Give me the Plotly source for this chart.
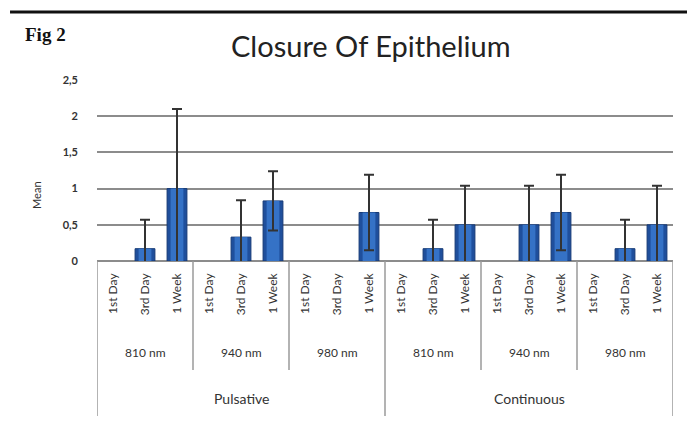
import plotly.graph_objects as go

# ---- data ----
modes = ["Pulsative", "Continuous"]
wavelengths = ["810 nm", "940 nm", "980 nm"]
days = ["1st Day", "3rd Day", "1 Week"]
means = [0, 0.17, 1.0, 0, 0.33, 0.83, 0, 0, 0.67,
         0, 0.17, 0.5, 0, 0.5, 0.67, 0, 0.17, 0.5]
err_plus = [0, 0.4, 1.1, 0, 0.51, 0.41, 0, 0, 0.52,
            0, 0.4, 0.54, 0, 0.54, 0.52, 0, 0.4, 0.54]
err_minus = [0, 0.4, 1.1, 0, 0.51, 0.41, 0, 0, 0.52,
             0, 0.4, 0.54, 0, 0.54, 0.52, 0, 0.4, 0.54]
y_ticks = [0, 0.5, 1, 1.5, 2, 2.5]

# ---- derived category layout ----
n_days = len(days)
n_wl = len(wavelengths)
tick_text = [d for m in modes for w in wavelengths for d in days]
xs = list(range(len(tick_text)))
total = len(tick_text)
# zero-valued bars are not drawn (no bar, no error bar)
bar_x = [x for x, v in zip(xs, means) if v > 0]
bar_y = [v for v in means if v > 0]
bar_ep = [e for e, v in zip(err_plus, means) if v > 0]
bar_em = [e for e, v in zip(err_minus, means) if v > 0]

FONT = "Lato, 'Open Sans', sans-serif"

fig = go.Figure()
# outer bar (dark edges)
fig.add_trace(go.Bar(
    x=bar_x, y=bar_y, width=0.62,
    marker=dict(color="#1f4f9c", line=dict(color="#163a76", width=1)),
    cliponaxis=True, showlegend=False, hoverinfo="skip",
))
# inner lighter strip + error bars
fig.add_trace(go.Bar(
    x=bar_x, y=bar_y, width=0.40,
    marker=dict(color="#3572c6", line=dict(width=0)),
    error_y=dict(type="data", array=bar_ep, arrayminus=bar_em,
                 color="#333333", thickness=2, width=5, symmetric=False),
    cliponaxis=True, showlegend=False,
))

shapes = []
annotations = []
# separators below the axis
for i in range(len(modes) * n_wl + 1):
    xpos = i * n_days - 0.5
    is_mode_edge = (i % n_wl == 0)
    shapes.append(dict(type="line", xref="x", yref="paper",
                       x0=xpos, x1=xpos, y0=0,
                       y1=-0.856 if is_mode_edge else -0.602,
                       line=dict(color="#9a9a9a", width=1.5)))
for mi, m in enumerate(modes):
    for wi, w in enumerate(wavelengths):
        c = (mi * n_wl + wi) * n_days + (n_days - 1) / 2
        annotations.append(dict(text=w, x=c, y=-0.503, xref="x", yref="paper",
                                showarrow=False, yanchor="middle",
                                font=dict(family=FONT, size=12, color="#333")))
    c = mi * n_wl * n_days + (n_wl * n_days - 1) / 2
    annotations.append(dict(text=m, x=c, y=-0.757, xref="x", yref="paper",
                            showarrow=False, yanchor="middle",
                            font=dict(family=FONT, size=14, color="#333")))

# top rule
shapes.append(dict(type="line", xref="paper", yref="paper",
                   x0=-0.151, x1=1.03, y0=1.376, y1=1.376,
                   line=dict(color="#111", width=3)))

annotations.append(dict(text="<b>Fig 2</b>", x=-0.129, y=1.249, xref="paper", yref="paper",
                        xanchor="left", yanchor="middle", showarrow=False,
                        font=dict(family="Liberation Serif, serif", size=19, color="#111")))
annotations.append(dict(text="Closure Of Epithelium", x=0.476, y=1.188, xref="paper", yref="paper",
                        xanchor="center", yanchor="middle", showarrow=False,
                        font=dict(family=FONT, size=29, color="#222")))
annotations.append(dict(text="Mean", x=-0.104, y=0.36, xref="paper", yref="paper",
                        textangle=-90, showarrow=False, xanchor="center", yanchor="middle",
                        font=dict(family=FONT, size=11, color="#333")))

fig.update_layout(
    width=687, height=421,
    margin=dict(l=97, r=14, t=80, b=160),
    paper_bgcolor="white", plot_bgcolor="white",
    separators=", ",
    barmode="overlay",
    shapes=shapes, annotations=annotations,
    xaxis=dict(range=[-0.5, total - 0.5], tickmode="array", tickvals=xs, ticktext=tick_text,
               tickangle=-90, ticks="", showgrid=False, zeroline=False,
               showline=False, ticklabelstandoff=9,
               tickfont=dict(family=FONT, size=12, color="#333")),
    yaxis=dict(range=[0, 2.5], tickmode="array", tickvals=y_ticks,
               showgrid=True, gridcolor="#8c8c8c", gridwidth=1.5,
               zeroline=True, zerolinecolor="#8c8c8c", zerolinewidth=1.5,
               showline=False, ticks="", ticklabelstandoff=18,
               tickfont=dict(family="Lato, sans-serif", size=11, color="#333",
                             weight="bold")),
)

fig.write_html("out.html")
